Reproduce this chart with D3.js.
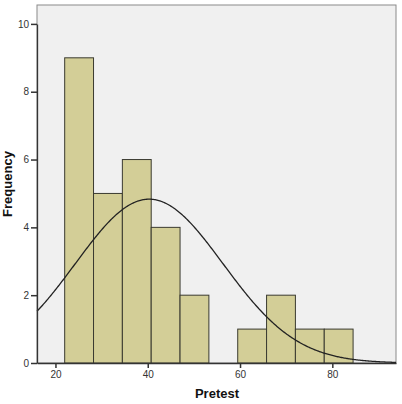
<!DOCTYPE html>
<html><head><meta charset="utf-8">
<script src="https://cdn.jsdelivr.net/npm/d3@7"></script>
<style>body{margin:0;background:#fff}svg{display:block}text{font-family:"Liberation Sans",Arial,sans-serif}</style>
</head><body>
<svg id="c" width="402" height="404"></svg>
<script>
const binStart = 22;
const binWidth = 6.25;
const counts = [9, 5, 6, 4, 2, 0, 1, 2, 1, 1];
const xTicks = [20, 40, 60, 80];
const yTicks = [0, 2, 4, 6, 8, 10];
const curveMean = 40.3;
const curveSD = 16.0;
const xLabel = "Pretest";
const yLabel = "Frequency";

const svg = d3.select("#c");
const L = 37, R = 396, T = 5, B = 363;
const x = d3.scaleLinear().domain([16.0, 93.8]).range([L, R]);
const y = d3.scaleLinear().domain([0, 10]).range([B, 23.9]);

svg.append("rect").attr("x", L).attr("y", T).attr("width", R - L).attr("height", B - T)
  .attr("fill", "#f0f0f0").attr("stroke", "#8a8a8a").attr("stroke-width", 1);

const bins = counts.map((c, i) => ({x0: binStart + i * binWidth, x1: binStart + (i + 1) * binWidth, c}));
svg.selectAll("rect.bar").data(bins.filter(d => d.c > 0)).enter().append("rect")
  .attr("class", "bar")
  .attr("x", d => x(d.x0)).attr("width", d => x(d.x1) - x(d.x0))
  .attr("y", d => y(d.c)).attr("height", d => y(0) - y(d.c))
  .attr("fill", "#d3ce97").attr("stroke", "#3a3a30").attr("stroke-width", 1);

const total = d3.sum(counts);
const pts = d3.range(16.0, 93.81, 0.2).map(v => [v, total * binWidth / (curveSD * Math.sqrt(2 * Math.PI)) * Math.exp(-0.5 * ((v - curveMean) / curveSD) ** 2)]);
svg.append("path").datum(pts)
  .attr("d", d3.line().x(d => x(d[0])).y(d => y(d[1])))
  .attr("fill", "none").attr("stroke", "#222").attr("stroke-width", 1.3);

const xAxis = svg.append("g").attr("transform", `translate(0,${B})`)
  .call(d3.axisBottom(x).tickValues(xTicks).tickSize(5).tickSizeOuter(0).tickPadding(3));
const yAxis = svg.append("g").attr("transform", `translate(${L},0)`)
  .call(d3.axisLeft(y).tickValues(yTicks).tickSize(6).tickSizeOuter(0).tickPadding(2));
[xAxis, yAxis].forEach(g => {
  g.select(".domain").attr("stroke", "#333").attr("stroke-width", 1.3);
  g.selectAll(".tick line").attr("stroke", "#333").attr("stroke-width", 1.5);
  g.selectAll(".tick text").attr("fill", "#333").attr("font-size", 10).attr("font-family", "'Liberation Sans',Arial,sans-serif");
});

svg.append("text").attr("x", 217).attr("y", 398).attr("text-anchor", "middle")
  .attr("font-weight", "bold").attr("font-size", 13).attr("fill", "#111").text(xLabel);
svg.append("text").attr("transform", "translate(12,184) rotate(-90)").attr("text-anchor", "middle")
  .attr("font-weight", "bold").attr("font-size", 13).attr("fill", "#111").text(yLabel);
</script>
</body></html>
